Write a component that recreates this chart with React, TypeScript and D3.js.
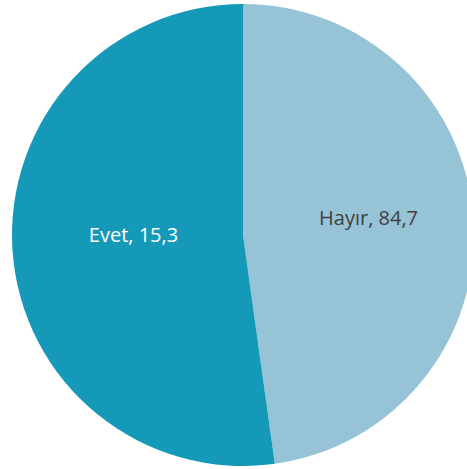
import React from "react";
import * as d3 from "d3";

const categories = ["Hayır", "Evet"];
// slice sizes as drawn in the picture (percent of the circle)
const sliceShares = [47.8, 52.2];
// label values as printed
const labelValues = ["84,7", "15,3"];
const colors = ["#96C3D6", "#149AB8"];
const labelColors = ["#404040", "#FFFFFF"];

const W = 467;
const H = 469;

export default function App() {
  const cx = 243;
  const cy = 235;
  const r = 231;
  const pie = d3.pie<number>().sort(null).value((d) => d);
  const arcs = pie(sliceShares);
  const arc = d3.arc<d3.PieArcDatum<number>>().innerRadius(0).outerRadius(r);
  const labelArc = d3
    .arc<d3.PieArcDatum<number>>()
    .innerRadius(r * 0.51)
    .outerRadius(r * 0.51);
  return (
    <svg
      width={W}
      height={H}
      style={{ position: "absolute", left: 0, top: 0, background: "#fff" }}
    >
      <g transform={`translate(${cx},${cy})`}>
        {arcs.map((a, i) => (
          <path key={i} d={arc(a) || ""} fill={colors[i]} />
        ))}
        {arcs.map((a, i) => {
          const [x, y] = labelArc.centroid(a);
          return (
            <text
              key={"t" + i}
              x={x + 8}
              y={y - 9}
              textAnchor="middle"
              dominantBaseline="central"
              fontFamily="'Open Sans', sans-serif"
              fontSize={20}
              fill={labelColors[i]}
            >
              {categories[i]}, {labelValues[i]}
            </text>
          );
        })}
      </g>
    </svg>
  );
}
